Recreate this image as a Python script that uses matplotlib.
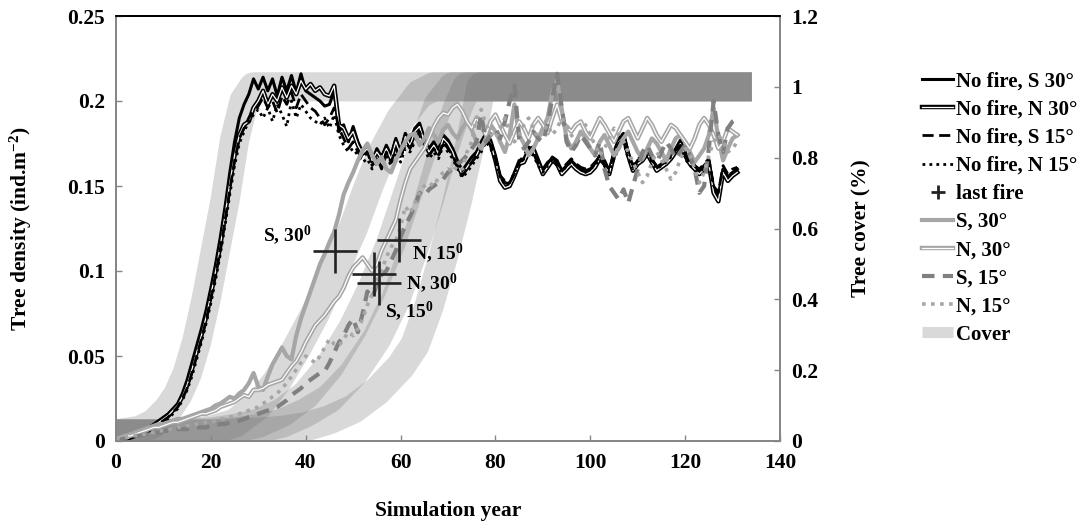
import matplotlib
matplotlib.use("Agg")
import matplotlib.pyplot as plt
from matplotlib.lines import Line2D
from matplotlib.legend_handler import HandlerTuple

plt.rcParams['font.family'] = ['Liberation Serif', 'DejaVu Serif']
plt.rcParams['font.weight'] = 'bold'
plt.rcParams['mathtext.fontset'] = 'custom'
plt.rcParams['mathtext.rm'] = 'Liberation Serif:bold'
plt.rcParams['mathtext.bf'] = 'Liberation Serif:bold'
plt.rcParams['mathtext.it'] = 'Liberation Serif:bold:italic'
plt.rcParams['mathtext.default'] = 'rm'

# ---------------- data ----------------
years = list(range(0, 132))

nf_s30 = [0.000,0.001,0.002,0.003,0.004,0.005,0.006,0.008,0.010,0.012,
          0.014,0.016,0.019,0.022,0.028,0.036,0.046,0.056,0.066,0.077,
          0.090,0.104,0.120,0.138,0.158,0.176,0.190,0.198,0.204,0.213,
          0.207,0.214,0.206,0.213,0.203,0.214,0.206,0.215,0.205,0.216,
          0.206,0.204,0.202,0.200,0.197,0.198,0.206,0.182,0.186,0.176,
          0.185,0.176,0.170,0.173,0.164,0.172,0.167,0.174,0.168,0.178,
          0.170,0.181,0.176,0.184,0.187,0.178,0.172,0.176,0.171,0.180,
          0.177,0.172,0.165,0.159,0.163,0.167,0.170,0.176,0.181,0.177,
          0.168,0.156,0.152,0.151,0.158,0.165,0.166,0.172,0.173,0.166,
          0.159,0.163,0.167,0.165,0.159,0.162,0.165,0.162,0.160,0.159,
          0.160,0.163,0.168,0.165,0.159,0.170,0.178,0.181,0.170,0.161,
          0.165,0.167,0.171,0.166,0.161,0.163,0.165,0.168,0.172,0.177,
          0.170,0.165,0.162,0.159,0.162,0.165,0.148,0.143,0.160,0.155,
          0.158,0.160]

nf_n30 = [0.000,0.001,0.001,0.002,0.003,0.004,0.005,0.007,0.009,0.011,
          0.013,0.015,0.018,0.021,0.026,0.033,0.042,0.052,0.062,0.073,
          0.086,0.100,0.115,0.133,0.152,0.168,0.180,0.186,0.188,0.196,
          0.200,0.206,0.198,0.204,0.200,0.208,0.202,0.209,0.204,0.212,
          0.207,0.210,0.206,0.208,0.204,0.203,0.209,0.186,0.184,0.178,
          0.182,0.174,0.169,0.172,0.165,0.170,0.166,0.172,0.166,0.176,
          0.168,0.179,0.174,0.182,0.185,0.176,0.170,0.174,0.169,0.178,
          0.175,0.170,0.162,0.157,0.161,0.165,0.168,0.174,0.179,0.175,
          0.165,0.153,0.149,0.150,0.156,0.163,0.164,0.170,0.171,0.164,
          0.157,0.161,0.165,0.163,0.157,0.160,0.163,0.160,0.158,0.157,
          0.158,0.161,0.166,0.163,0.157,0.168,0.176,0.179,0.168,0.159,
          0.163,0.165,0.169,0.164,0.159,0.161,0.163,0.166,0.170,0.175,
          0.168,0.163,0.160,0.157,0.160,0.163,0.146,0.141,0.158,0.153,
          0.156,0.158]

nf_s15 = [0.000,0.001,0.001,0.002,0.003,0.004,0.005,0.006,0.008,0.010,
          0.012,0.014,0.017,0.020,0.025,0.031,0.040,0.050,0.060,0.071,
          0.084,0.098,0.113,0.130,0.148,0.165,0.178,0.184,0.190,0.194,
          0.197,0.202,0.196,0.200,0.193,0.203,0.198,0.205,0.196,0.204,
          0.200,0.196,0.194,0.190,0.186,0.190,0.196,0.184,0.178,0.172,
          0.176,0.170,0.166,0.170,0.162,0.167,0.160,0.170,0.164,0.172,
          0.166,0.176,0.172,0.178,0.182,0.174,0.168,0.172,0.168,0.176,
          0.172,0.168,0.162,0.156,0.160,0.164,0.168,0.172,0.178,0.174,
          0.166,0.156,0.153,0.152,0.157,0.164,0.168,0.173,0.170,0.164,
          0.160,0.164,0.166,0.163,0.160,0.163,0.166,0.163,0.161,0.160,
          0.161,0.164,0.167,0.163,0.160,0.168,0.175,0.178,0.168,0.162,
          0.166,0.168,0.170,0.165,0.162,0.164,0.166,0.169,0.171,0.174,
          0.168,0.164,0.162,0.160,0.163,0.166,0.150,0.146,0.162,0.157,
          0.160,0.161]

nf_n15 = [0.000,0.001,0.001,0.002,0.003,0.003,0.004,0.006,0.007,0.009,
          0.011,0.013,0.016,0.019,0.024,0.030,0.038,0.048,0.058,0.069,
          0.081,0.095,0.110,0.127,0.145,0.162,0.175,0.182,0.188,0.192,
          0.195,0.190,0.196,0.188,0.198,0.192,0.185,0.200,0.190,0.198,
          0.194,0.190,0.188,0.186,0.190,0.184,0.192,0.180,0.174,0.170,
          0.172,0.168,0.164,0.166,0.160,0.164,0.162,0.168,0.162,0.170,
          0.164,0.172,0.170,0.176,0.180,0.172,0.166,0.170,0.166,0.174,
          0.170,0.166,0.160,0.155,0.158,0.162,0.166,0.170,0.176,0.172,
          0.165,0.155,0.151,0.152,0.158,0.162,0.166,0.170,0.168,0.162,
          0.158,0.162,0.165,0.162,0.158,0.162,0.164,0.162,0.160,0.158,
          0.160,0.162,0.166,0.162,0.158,0.166,0.172,0.176,0.166,0.160,
          0.164,0.166,0.168,0.164,0.160,0.162,0.164,0.167,0.170,0.172,
          0.166,0.162,0.160,0.158,0.161,0.164,0.150,0.147,0.160,0.156,
          0.158,0.160]

f_s30 = [0.001,0.002,0.003,0.004,0.005,0.006,0.007,0.008,0.009,0.010,
         0.010,0.011,0.012,0.013,0.013,0.014,0.015,0.016,0.017,0.018,
         0.019,0.021,0.022,0.024,0.026,0.025,0.028,0.030,0.034,0.040,
         0.032,0.030,0.038,0.045,0.050,0.055,0.050,0.048,0.062,0.072,
         0.080,0.088,0.096,0.104,0.110,0.117,0.123,0.133,0.145,0.152,
         0.158,0.165,0.171,0.175,0.168,0.163,0.167,0.160,0.158,0.165,
         0.171,0.176,0.180,0.181,0.174,0.178,0.184,0.180,0.176,0.183,
         0.186,0.181,0.178,0.184,0.188,0.183,0.176,0.172,0.178,0.186,
         0.182,0.176,0.170,0.180,0.198,0.180,0.175,0.168,0.172,0.178,
         0.184,0.190,0.205,0.212,0.195,0.178,0.172,0.176,0.182,0.178,
         0.172,0.168,0.176,0.180,0.174,0.168,0.172,0.178,0.182,0.176,
         0.170,0.166,0.172,0.178,0.175,0.170,0.165,0.172,0.178,0.180,
         0.176,0.170,0.164,0.168,0.172,0.180,0.196,0.178,0.165,0.172,
         0.178,0.180]

f_n30 = [0.001,0.002,0.003,0.003,0.004,0.005,0.006,0.007,0.008,0.008,
         0.009,0.010,0.011,0.011,0.012,0.013,0.014,0.015,0.016,0.016,
         0.017,0.018,0.020,0.021,0.022,0.023,0.025,0.027,0.026,0.030,
         0.030,0.031,0.033,0.034,0.035,0.036,0.040,0.044,0.047,0.052,
         0.058,0.063,0.068,0.071,0.074,0.078,0.082,0.085,0.090,0.097,
         0.102,0.105,0.108,0.104,0.100,0.104,0.112,0.118,0.124,0.130,
         0.142,0.152,0.160,0.164,0.168,0.172,0.178,0.185,0.190,0.193,
         0.192,0.196,0.198,0.194,0.188,0.184,0.190,0.185,0.180,0.188,
         0.192,0.186,0.180,0.175,0.182,0.188,0.184,0.178,0.186,0.190,
         0.186,0.181,0.190,0.198,0.188,0.185,0.182,0.186,0.188,0.182,
         0.178,0.184,0.190,0.186,0.181,0.176,0.182,0.188,0.190,0.184,
         0.178,0.184,0.190,0.186,0.180,0.176,0.181,0.186,0.184,0.180,
         0.176,0.172,0.178,0.186,0.190,0.186,0.180,0.172,0.176,0.184,
         0.182,0.180]

f_s15 = [0.000,0.001,0.002,0.002,0.003,0.003,0.004,0.004,0.005,0.005,
         0.006,0.006,0.006,0.007,0.007,0.007,0.008,0.008,0.008,0.008,
         0.009,0.009,0.010,0.010,0.011,0.011,0.012,0.013,0.014,0.015,
         0.016,0.017,0.018,0.019,0.020,0.022,0.024,0.027,0.029,0.031,
         0.034,0.036,0.038,0.040,0.041,0.046,0.052,0.058,0.062,0.068,
         0.072,0.064,0.075,0.088,0.084,0.092,0.098,0.100,0.106,0.112,
         0.120,0.127,0.132,0.138,0.146,0.144,0.148,0.150,0.152,0.154,
         0.158,0.160,0.163,0.165,0.168,0.172,0.176,0.192,0.176,0.180,
         0.184,0.178,0.188,0.200,0.209,0.178,0.172,0.176,0.182,0.178,
         0.176,0.186,0.202,0.216,0.196,0.176,0.170,0.174,0.180,0.176,
         0.172,0.168,0.176,0.160,0.150,0.146,0.142,0.148,0.140,0.150,
         0.160,0.170,0.174,0.168,0.164,0.170,0.176,0.172,0.166,0.170,
         0.174,0.168,0.160,0.146,0.150,0.172,0.200,0.180,0.170,0.184,
         0.188,0.190]

f_n15 = [0.001,0.001,0.002,0.003,0.003,0.004,0.004,0.005,0.005,0.006,
         0.006,0.007,0.007,0.008,0.008,0.009,0.009,0.010,0.010,0.011,
         0.011,0.012,0.013,0.013,0.014,0.015,0.016,0.017,0.018,0.019,
         0.020,0.022,0.024,0.026,0.028,0.031,0.034,0.038,0.042,0.046,
         0.050,0.048,0.046,0.050,0.055,0.060,0.057,0.056,0.060,0.064,
         0.062,0.066,0.072,0.080,0.086,0.094,0.100,0.108,0.114,0.118,
         0.126,0.138,0.134,0.140,0.146,0.150,0.152,0.150,0.155,0.158,
         0.160,0.158,0.162,0.160,0.170,0.176,0.190,0.195,0.186,0.181,
         0.178,0.184,0.190,0.182,0.176,0.180,0.186,0.190,0.184,0.178,
         0.182,0.186,0.180,0.184,0.190,0.186,0.180,0.176,0.182,0.186,
         0.180,0.174,0.168,0.172,0.178,0.184,0.180,0.176,0.170,0.164,
         0.158,0.152,0.156,0.164,0.170,0.166,0.160,0.154,0.158,0.166,
         0.172,0.168,0.160,0.152,0.158,0.168,0.176,0.180,0.176,0.170,
         0.172,0.176]

# last fire (year, density): S30, N30, S15, N15
fire_x = [46.2, 54.4, 55.5, 59.7]
fire_y = [0.112, 0.098, 0.093, 0.118]
fire_labels = ["S, 30$^{0}$", "N, 30$^{0}$", "S, 15$^{0}$", "N, 15$^{0}$"]

# tree cover curves (fraction, right axis)
cov_nf_x = [0, 5, 8, 11, 13, 15, 17, 19, 21, 23, 25, 27, 29, 131]
cov_nf_y = [0.02, 0.03, 0.05, 0.09, 0.13, 0.19, 0.28, 0.40, 0.54, 0.68, 0.85, 0.96, 1.0, 1.0]
cov_s30_x = [0, 10, 20, 25, 30, 34, 38, 42, 46, 50, 53, 56, 60, 64, 67, 131]
cov_s30_y = [0.02, 0.02, 0.03, 0.05, 0.10, 0.17, 0.26, 0.36, 0.48, 0.60, 0.71, 0.81, 0.91, 0.98, 1.0, 1.0]
cov_n30_x = [0, 10, 20, 25, 30, 35, 40, 45, 50, 54, 58, 62, 65, 68, 71, 131]
cov_n30_y = [0.02, 0.02, 0.025, 0.035, 0.05, 0.08, 0.13, 0.21, 0.32, 0.43, 0.56, 0.72, 0.84, 0.95, 1.0, 1.0]
cov_n15_x = [0, 10, 20, 25, 30, 35, 40, 45, 50, 55, 59, 63, 66, 69, 72, 74, 131]
cov_n15_y = [0.02, 0.02, 0.02, 0.025, 0.035, 0.05, 0.08, 0.12, 0.19, 0.29, 0.40, 0.55, 0.68, 0.82, 0.94, 1.0, 1.0]
cov_s15_x = [0, 10, 20, 30, 35, 40, 45, 50, 55, 60, 63, 66, 69, 72, 75, 77, 131]
cov_s15_y = [0.02, 0.02, 0.02, 0.025, 0.03, 0.04, 0.06, 0.09, 0.14, 0.21, 0.27, 0.38, 0.52, 0.68, 0.86, 1.0, 1.0]

x_ticks = [0, 20, 40, 60, 80, 100, 120, 140]
y_ticks = [0, 0.05, 0.1, 0.15, 0.2, 0.25]
y_tick_labels = ["0", "0.05", "0.1", "0.15", "0.2", "0.25"]
y2_ticks = [0, 0.2, 0.4, 0.6, 0.8, 1.0, 1.2]
y2_tick_labels = ["0", "0.2", "0.4", "0.6", "0.8", "1", "1.2"]

# ---------------- figure ----------------
W, H = 1083, 526
fig = plt.figure(figsize=(W / 100, H / 100), dpi=100)
ax = fig.add_axes([116 / W, 1 - 441 / H, (780 - 116) / W, (441 - 16) / H])
ax2 = ax.twinx()
ax.set_zorder(ax2.get_zorder() + 1)
ax.patch.set_visible(False)

band_kw = dict(color='#696969', alpha=0.25, lw=21, solid_capstyle='projecting',
               solid_joinstyle='round')
for cx, cy in [(cov_nf_x, cov_nf_y), (cov_s30_x, cov_s30_y), (cov_n30_x, cov_n30_y),
               (cov_n15_x, cov_n15_y), (cov_s15_x, cov_s15_y)]:
    ax2.plot(cx, cy, **band_kw)

BLACK = '#000000'
GRAY = '#a6a6a6'
DGRAY = '#808080'

ax.plot(years, nf_s30, color=BLACK, lw=2.2)
ax.plot(years, nf_n30, color=BLACK, lw=3.2)
ax.plot(years, nf_n30, color='white', lw=0.9)
ax.plot(years, nf_s15, color=BLACK, lw=2.0, dashes=(4, 2))
ax.plot(years, nf_n15, color=BLACK, lw=2.0, dashes=(1, 1.5))

ax.plot(years, f_s30, color=GRAY, lw=3.0)
ax.plot(years, f_n30, color=GRAY, lw=3.2)
ax.plot(years, f_n30, color='white', lw=0.9)
ax.plot(years, f_s15, color=DGRAY, lw=3.0, dashes=(3, 2))
ax.plot(years, f_n15, color=GRAY, lw=2.6, dashes=(1, 1.5))

ax.plot(fire_x, fire_y, ls='none', marker='+', ms=32, mew=1.9, color='#222222')

offsets = [(-17, 11, 'right'), (23, -6, 'left'), (4, -20, 'left'), (9, -9, 'left')]
for fx, fy, lab, (dx, dy, ha) in zip(fire_x, fire_y, fire_labels, offsets):
    ax.annotate(lab, xy=(fx, fy), xytext=(dx, dy), textcoords='offset points',
                ha=ha, va='center', fontsize=14, fontweight='bold')

# axes styling
ax.set_xlim(0, 140)
ax.set_ylim(0, 0.25)
ax2.set_ylim(0, 1.2)
ax.set_xticks(x_ticks)
ax.set_xticklabels([str(v) for v in x_ticks])
ax.set_yticks(y_ticks)
ax.set_yticklabels(y_tick_labels)
ax2.set_yticks(y2_ticks)
ax2.set_yticklabels(y2_tick_labels)

spine_col = '#868686'
for a in (ax, ax2):
    for s in a.spines.values():
        s.set_color(spine_col)
        s.set_linewidth(1.3)
    a.spines['top'].set_color('#000000')
    a.tick_params(direction='in', length=4, width=1, color=spine_col,
                  labelsize=15.5, pad=8)
ax.tick_params(axis='x', pad=9)

ax.set_xlabel("Simulation year", fontsize=15.5, fontweight='bold', labelpad=20)
ax.set_ylabel("Tree density (ind.m$^{-2}$)", fontsize=15.5, fontweight='bold')
ax.yaxis.set_label_coords((34 - 116) / 664, 0.5)
ax2.set_ylabel("Tree cover (%)", fontsize=15.5, fontweight='bold')
ax2.yaxis.set_label_coords((851 - 116) / 664, 0.5)

# legend
h_nf_s30 = Line2D([], [], color=BLACK, lw=2.2)
h_nf_n30 = (Line2D([], [], color=BLACK, lw=3.2), Line2D([], [], color='white', lw=0.9))
h_nf_s15 = Line2D([], [], color=BLACK, lw=2.0, dashes=(4, 2))
h_nf_n15 = Line2D([], [], color=BLACK, lw=2.0, dashes=(1, 1.5))
h_fire = Line2D([], [], ls='none', marker='+', ms=10, mew=2, color='#222222')
h_s30 = Line2D([], [], color=GRAY, lw=3.0)
h_n30 = (Line2D([], [], color=GRAY, lw=3.2), Line2D([], [], color='white', lw=0.9))
h_s15 = Line2D([], [], color=DGRAY, lw=3.0, dashes=(3, 2))
h_n15 = Line2D([], [], color=GRAY, lw=2.6, dashes=(1, 1.5))
h_cov = Line2D([], [], color='#d9d9d9', lw=8, solid_capstyle='butt')

handles = [h_nf_s30, h_nf_n30, h_nf_s15, h_nf_n15, h_fire, h_s30, h_n30, h_s15, h_n15, h_cov]
labels = ["No fire, S 30°", "No fire, N 30°", "No fire, S 15°", "No fire, N 15°",
          "last fire", "S, 30°", "N, 30°", "S, 15°", "N, 15°", "Cover"]
fig.legend(handles, labels, loc='center left', bbox_to_anchor=(922 / W, 1 - 208 / H),
           frameon=False, handlelength=1.5, handletextpad=0.15,
           labelspacing=0.39, borderpad=0, borderaxespad=0,
           handler_map={tuple: HandlerTuple(ndivide=1)},
           prop={'weight': 'bold', 'size': 15})

fig.savefig("out.png", dpi=100)
